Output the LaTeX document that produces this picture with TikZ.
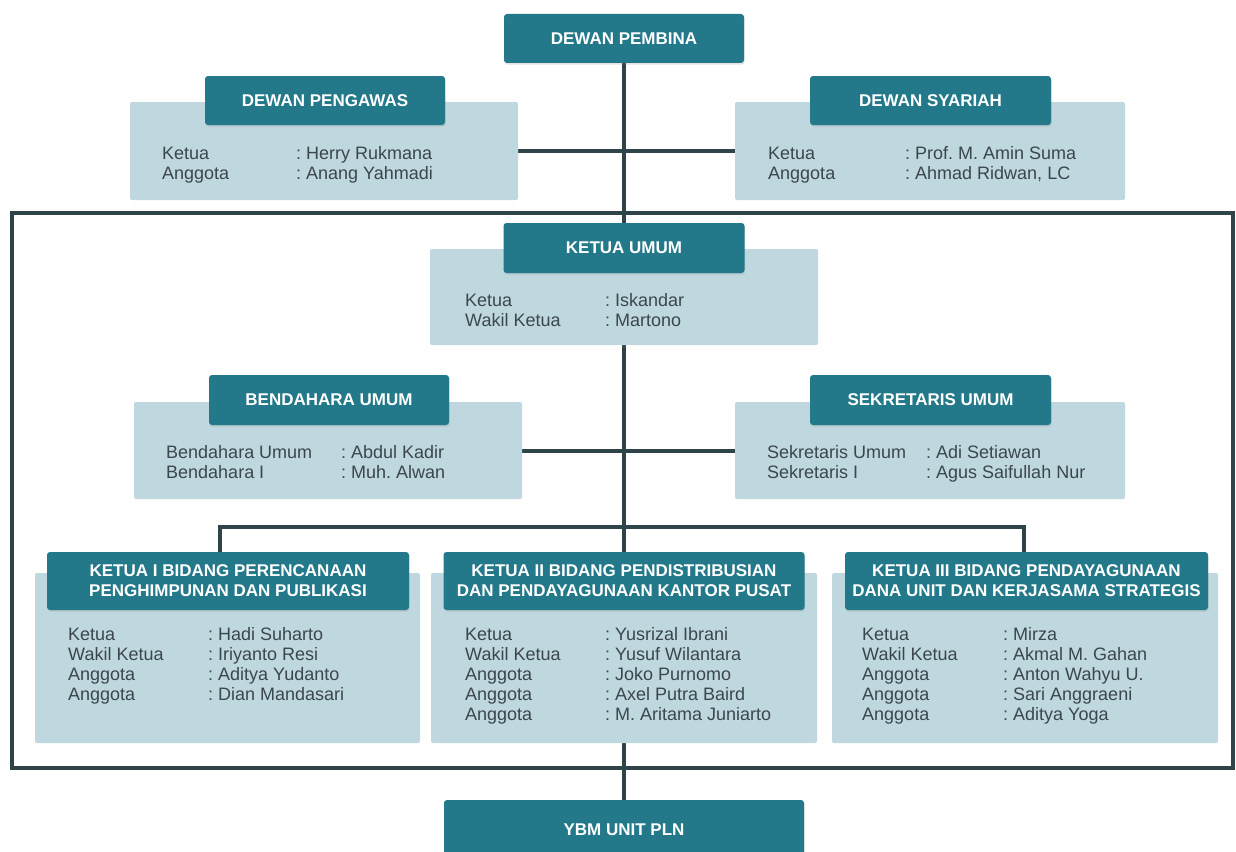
\documentclass[tikz,border=0pt]{standalone}
\usepackage{fontspec}
\setmainfont{Liberation Sans}
\usetikzlibrary{shadows}
\definecolor{hdr}{HTML}{23798A}
\definecolor{lite}{HTML}{BFD8DF}
\definecolor{lnc}{HTML}{2E4448}
\definecolor{txt}{HTML}{3A474C}
\pgfdeclarelayer{bg}
\pgfsetlayers{bg,main}
\frenchspacing
\newcommand{\orgrow}[3]{\makebox[#1][l]{#2}: #3}
\begin{document}
\begin{tikzpicture}[x=1pt,y=-1pt,
  hdrbox/.style={fill=hdr, rounded corners=3pt, text=white,
    font=\bfseries\fontsize{17}{20}\selectfont, inner sep=0pt, align=center,
    drop shadow={opacity=0.22, shadow xshift=0.6pt, shadow yshift=-1.6pt}},
  litebox/.style={fill=lite, rounded corners=2pt, inner sep=0pt},
  info/.style={text=txt, font=\fontsize{18}{20}\selectfont, align=left,
    anchor=north west, inner sep=0pt},
  conn/.style={draw=lnc, line width=4pt}]
\useasboundingbox (0,0) rectangle (1236,851);
\clip (0,0) rectangle (1236,851);

% top
\node[hdrbox, minimum width=240pt, minimum height=49pt] (pemb) at (624,38.5) {DEWAN PEMBINA};

\node[litebox, minimum width=388pt, minimum height=98pt] (pengL) at (324,151) {};
\node[hdrbox, minimum width=240pt, minimum height=49pt] (pengH) at (325,100.5) {DEWAN PENGAWAS};
\node[info] (pengT) at (162,146) {\orgrow{134pt}{Ketua}{Herry Rukmana}\\\orgrow{134pt}{Anggota}{Anang Yahmadi}};

\node[litebox, minimum width=390pt, minimum height=98pt] (syarL) at (930,151) {};
\node[hdrbox, minimum width=241pt, minimum height=49pt] (syarH) at (930.5,100.5) {DEWAN SYARIAH};
\node[info] (syarT) at (768,146) {\orgrow{137pt}{Ketua}{Prof. M. Amin Suma}\\\orgrow{137pt}{Anggota}{Ahmad Ridwan, LC}};

% ketua umum
\node[litebox, minimum width=388pt, minimum height=96pt] (kuL) at (624,297) {};
\node[hdrbox, minimum width=241pt, minimum height=50pt] (kuH) at (624,248) {KETUA UMUM};
\node[info] (kuT) at (465,293) {\orgrow{140pt}{Ketua}{Iskandar}\\\orgrow{140pt}{Wakil Ketua}{Martono}};

% bendahara / sekretaris
\node[litebox, minimum width=388pt, minimum height=97pt] (bendL) at (328,450.5) {};
\node[hdrbox, minimum width=240pt, minimum height=50pt] (bendH) at (329,400) {BENDAHARA UMUM};
\node[info] (bendT) at (166,445) {\orgrow{175pt}{Bendahara Umum}{Abdul Kadir}\\\orgrow{175pt}{Bendahara I}{Muh. Alwan}};

\node[litebox, minimum width=390pt, minimum height=97pt] (sekL) at (930,450.5) {};
\node[hdrbox, minimum width=241pt, minimum height=50pt] (sekH) at (930.5,400) {SEKRETARIS UMUM};
\node[info] (sekT) at (767,445) {\orgrow{159pt}{Sekretaris Umum}{Adi Setiawan}\\\orgrow{159pt}{Sekretaris I}{Agus Saifullah Nur}};

% bidang
\node[litebox, minimum width=385pt, minimum height=170pt] (k1L) at (227.5,658) {};
\node[hdrbox, minimum width=362pt, minimum height=58pt] (k1H) at (228,581) {KETUA I BIDANG PERENCANAAN\\PENGHIMPUNAN DAN PUBLIKASI};
\node[info] (k1T) at (68,627) {\orgrow{140pt}{Ketua}{Hadi Suharto}\\\orgrow{140pt}{Wakil Ketua}{Iriyanto Resi}\\\orgrow{140pt}{Anggota}{Aditya Yudanto}\\\orgrow{140pt}{Anggota}{Dian Mandasari}};

\node[litebox, minimum width=386pt, minimum height=170pt] (k2L) at (624,658) {};
\node[hdrbox, minimum width=361pt, minimum height=58pt] (k2H) at (624,581) {KETUA II BIDANG PENDISTRIBUSIAN\\DAN PENDAYAGUNAAN KANTOR PUSAT};
\node[info] (k2T) at (465,627) {\orgrow{140pt}{Ketua}{Yusrizal Ibrani}\\\orgrow{140pt}{Wakil Ketua}{Yusuf Wilantara}\\\orgrow{140pt}{Anggota}{Joko Purnomo}\\\orgrow{140pt}{Anggota}{Axel Putra Baird}\\\orgrow{140pt}{Anggota}{M. Aritama Juniarto}};

\node[litebox, minimum width=386pt, minimum height=170pt] (k3L) at (1025,658) {};
\node[hdrbox, minimum width=363pt, minimum height=58pt] (k3H) at (1026.5,581) {KETUA III BIDANG PENDAYAGUNAAN\\DANA UNIT DAN KERJASAMA STRATEGIS};
\node[info] (k3T) at (862,627) {\orgrow{141pt}{Ketua}{Mirza}\\\orgrow{141pt}{Wakil Ketua}{Akmal M. Gahan}\\\orgrow{141pt}{Anggota}{Anton Wahyu U.}\\\orgrow{141pt}{Anggota}{Sari Anggraeni}\\\orgrow{141pt}{Anggota}{Aditya Yoga}};

% bottom
\node[hdrbox, minimum width=360pt, minimum height=59pt] (ybm) at (624,829.5) {YBM UNIT PLN};

\coordinate (bus1) at (220,527);
\coordinate (bus3) at (1024,527);

\begin{pgfonlayer}{bg}
  \fill[white] (0,0) rectangle (1236,851);
  \draw[conn] (12,213) rectangle (1233,768);
  \draw[conn] (pemb.south) -- (kuH.north);
  \draw[conn] (pengL.east) -- (syarL.west);
  \draw[conn] (kuL.south) -- (k2H.north);
  \draw[conn] (bendL.east) -- (sekL.west);
  \draw[conn] (bus1 |- k1H.north) -- (bus1) -- (bus3) -- (bus3 |- k3H.north);
  \draw[conn] (k2L.south) -- (ybm.north);
\end{pgfonlayer}
\end{tikzpicture}
\end{document}
